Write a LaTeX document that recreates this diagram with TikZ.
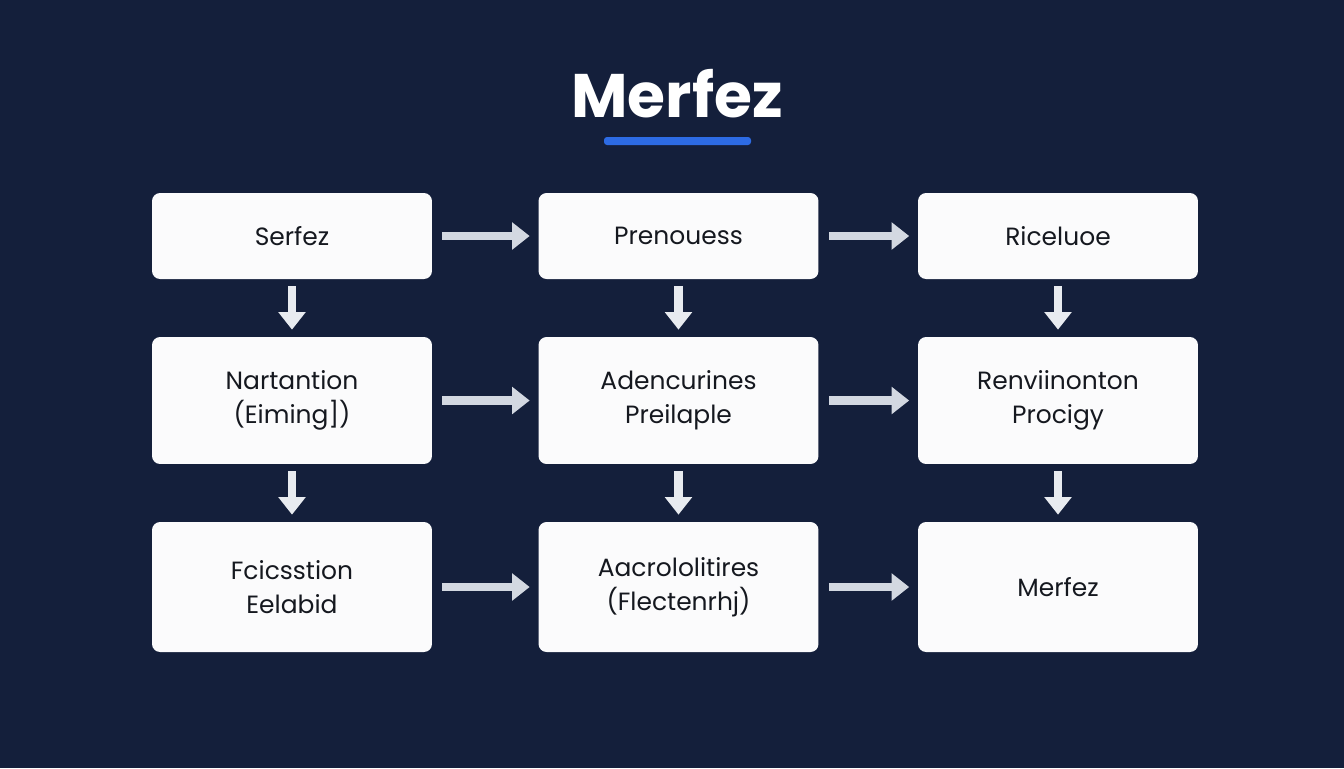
\documentclass[tikz,border=0pt]{standalone}
\usepackage{fontspec}
\setmainfont{Poppins}
\usetikzlibrary{arrows.meta}
\definecolor{bg}{HTML}{141F3B}
\definecolor{boxfill}{HTML}{FBFBFC}
\definecolor{boxtext}{HTML}{15181F}
\definecolor{accent}{HTML}{2D6BE4}
\definecolor{arrowc}{HTML}{E8EBF0}
\definecolor{arrowh}{HTML}{D3D8E1}
\tikzset{
  stepbox/.style={draw=none, fill=boxfill, rounded corners=0.16cm, minimum width=5.6cm,
    align=center, text=boxtext, font=\fontsize{14.2}{19.5}\selectfont, inner sep=0pt},
  flowarrow/.style={draw=arrowc, line width=5pt,
    -{Triangle[length=10pt,width=15pt]}},
  harrow/.style={flowarrow, draw=arrowh, shorten <=0.2cm, shorten >=0.17cm},
  varrow/.style={flowarrow, shorten <=0.14cm, shorten >=0.14cm},
}
\begin{document}
\begin{tikzpicture}[x=0.02cm,y=-0.02cm]
\fill[bg] (0,0) rectangle (1344,768);
\useasboundingbox (0,0) rectangle (1344,768);
\node[text=white, font=\fontsize{35}{40}\selectfont\bfseries] (title) at (677,94) {Merfez};
\fill[accent, rounded corners=0.06cm] (604,137) rectangle (751,145);
\node[stepbox, minimum height=1.72cm] (a1) at (292,236) {Serfez};
\node[stepbox, minimum height=1.72cm] (a2) at (678.5,236) {Prenouess};
\node[stepbox, minimum height=1.72cm] (a3) at (1058,236) {Riceluoe};
\node[stepbox, minimum height=2.54cm] (b1) at (292,400.5) {Nartantion\\(Eiming])};
\node[stepbox, minimum height=2.54cm] (b2) at (678.5,400.5) {Adencurines\\Preilaple};
\node[stepbox, minimum height=2.54cm] (b3) at (1058,400.5) {Renviinonton\\Procigy};
\node[stepbox, minimum height=2.6cm] (c1) at (292,587) {Fcicsstion\\Eelabid};
\node[stepbox, minimum height=2.6cm] (c2) at (678.5,587) {Aacrololitires\\(Flectenrhj)};
\node[stepbox, minimum height=2.6cm] (c3) at (1058,587) {Merfez};
\draw[harrow] (a1) -- (a2);
\draw[harrow] (a2) -- (a3);
\draw[harrow] (b1) -- (b2);
\draw[harrow] (b2) -- (b3);
\draw[harrow] (c1) -- (c2);
\draw[harrow] (c2) -- (c3);
\draw[varrow] (a1) -- (b1);
\draw[varrow] (a2) -- (b2);
\draw[varrow] (a3) -- (b3);
\draw[varrow] (b1) -- (c1);
\draw[varrow] (b2) -- (c2);
\draw[varrow] (b3) -- (c3);
\end{tikzpicture}
\end{document}
